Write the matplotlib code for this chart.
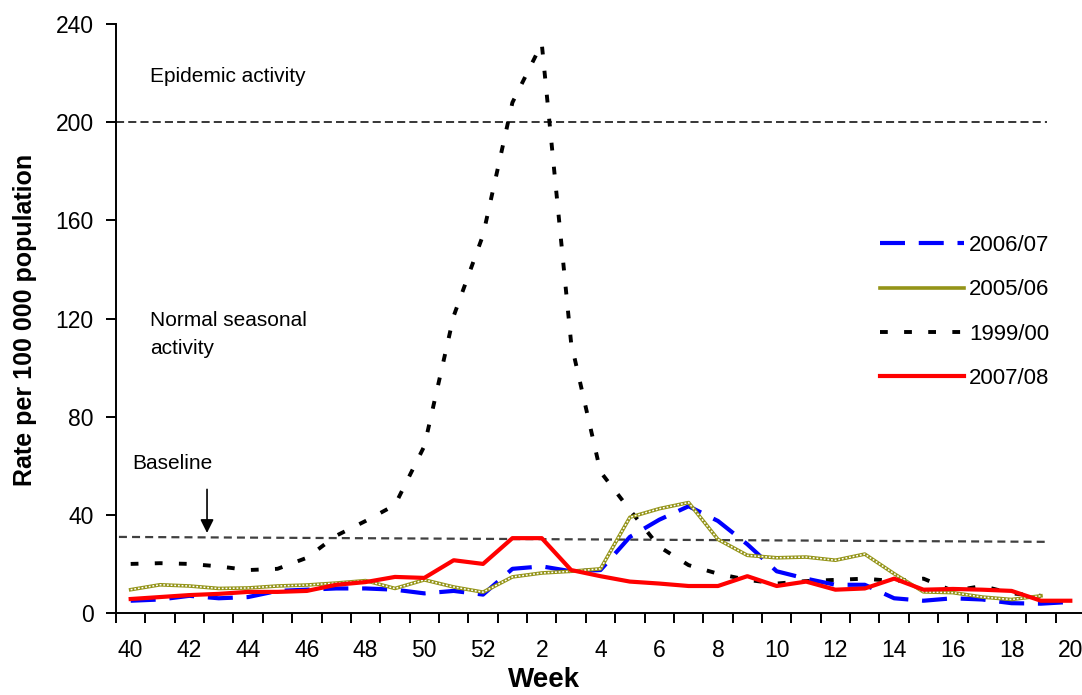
import numpy as np
import matplotlib
matplotlib.use("Agg")
import matplotlib.pyplot as plt

plt.rcParams['font.family'] = ['Liberation Sans', 'DejaVu Sans']

# week order of the season: 40..52 then 1..20
weeks = list(range(40, 53)) + list(range(1, 21))

rate_0607 = [5, 5.5, 7, 6, 6.5, 9, 9.5, 10, 10, 9.5, 8, 9, 7.5, 18, 19, 17, 17.5,
             31, 38, 43.5, 37.5, 28, 17, 14, 11.5, 11.5, 6, 5, 6, 5.5, 4, 3.8, 4.5]
rate_0506 = [9.5, 11.5, 11, 10, 10.2, 11, 11.4, 12.2, 13.2, 10, 13.5, 10.6, 8.5, 14.7, 16.3, 17, 18,
             39, 42.5, 45, 30, 23.5, 22.5, 22.8, 21.5, 24, 16, 8.6, 8.3, 6.5, 5.5, 7]
rate_9900 = [20, 20.3, 20, 19, 17.5, 18, 22.5, 31.5, 37.5, 44, 68, 121, 154, 208, 232, 110, 57.5,
             42, 27, 19.5, 16, 13.5, 12, 13, 13.5, 14, 13, 14, 9, 11, 8, 7]
rate_0708 = [5.7, 6.5, 7.3, 7.8, 8.6, 8.6, 9, 11.5, 12.6, 14.7, 14.3, 21.5, 20, 30.5, 30.5, 17.5, 15,
             12.8, 12, 11, 11, 15, 11, 12.8, 9.5, 10, 14, 9.5, 9.8, 9.5, 9, 5, 5]

epidemic_x = [-0.5, 31.2]
epidemic_y = [200, 200]
baseline_x = [-0.4, 31.2]
baseline_y = [31, 29]

x = np.arange(len(weeks))

fig = plt.figure(figsize=(10.82, 6.95), dpi=100)
ax = fig.add_axes([116 / 1082, 82 / 695, 969 / 1082, 589 / 695])

ax.plot(epidemic_x, epidemic_y, color='black', lw=1.1, dashes=(5.3, 2.7))
ax.plot(baseline_x, baseline_y, color='#404040', lw=1.6, dashes=(3.6, 2.3))

l99, = ax.plot(x[:len(rate_9900)], rate_9900, color='black', lw=2.8, dashes=(2, 4.2))
l06, = ax.plot(x[:len(rate_0607)], rate_0607, color='#0000ff', lw=3, dashes=(6, 3.3))
l05, = ax.plot(x[:len(rate_0506)], rate_0506, color='#949418', lw=2.6)
ax.plot(x[:len(rate_0506)], rate_0506, color='white', lw=1.1, dashes=(1.2, 1.2))
l07, = ax.plot(x, rate_0708, color='#ff0000', lw=3)

ax.set_xlim(-0.5, 32.5)
ax.set_ylim(0, 240)

ax.set_xticks(np.arange(-0.5, 33, 1))
ax.set_xticklabels([])
ax.set_xticks(np.arange(0, 33, 2), minor=True)
ax.set_xticklabels([str(weeks[i]) for i in range(0, 33, 2)], minor=True)
ax.tick_params(axis='x', which='major', direction='out', length=7, width=1.4)
ax.tick_params(axis='x', which='minor', length=0, pad=19, labelsize=16.5)
ax.set_yticks(np.arange(0, 241, 40))
ax.tick_params(axis='y', direction='out', length=7, width=1.4, pad=9, labelsize=16.5)

for side in ['top', 'right']:
    ax.spines[side].set_visible(False)
for side in ['left', 'bottom']:
    ax.spines[side].set_linewidth(1.4)

ax.text(0.65, 218.7, 'Epidemic activity', fontsize=15, va='center', ha='left')
ax.text(0.65, 123, 'Normal seasonal\nactivity', fontsize=15, va='top', ha='left',
        linespacing=1.6)
ax.text(0.05, 61, 'Baseline', fontsize=15, va='center', ha='left')
ax.annotate('', xy=(2.6, 31.5), xytext=(2.6, 51.5),
            arrowprops=dict(arrowstyle='-|>', color='black', lw=1.2, mutation_scale=20))

fig.text(25 / 1082, 1 - 320 / 695, 'Rate per 100 000 population', rotation=90,
         fontsize=18, fontweight='bold', ha='center', va='center')
fig.text(544 / 1082, 1 - 680 / 695, 'Week', fontsize=20, fontweight='bold',
         ha='center', va='center')

ax.legend([l06, l05, l99, l07], ['2006/07', '2005/06', '1999/00', '2007/08'],
          loc='upper left', bbox_to_anchor=(880 / 1082, 1 - 235 / 695),
          bbox_transform=fig.transFigure, frameon=False, fontsize=16,
          handlelength=3.8, handletextpad=0.2, labelspacing=1.05,
          borderpad=0, borderaxespad=0)

fig.savefig('out.png', dpi=100)
